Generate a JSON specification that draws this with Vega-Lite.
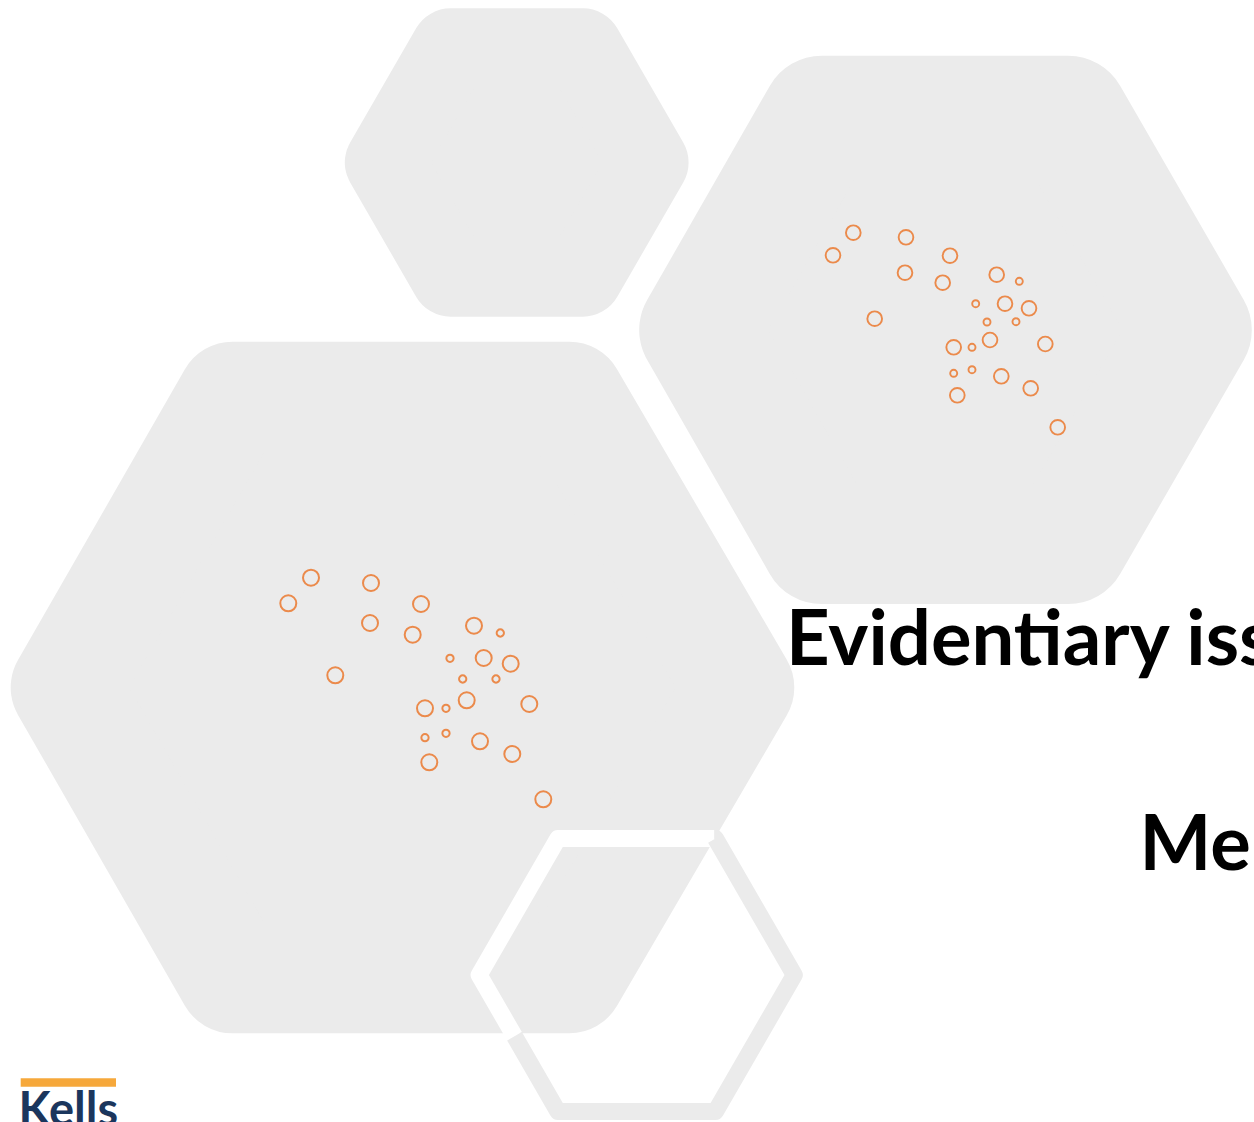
{
  "$schema": "https://vega.github.io/schema/vega-lite/v6.json",
  "width": 1254,
  "height": 1122,
  "padding": 0,
  "autosize": {"type": "none"},
  "background": "white",
  "config": {"view": {"stroke": null}},
  "datasets": {
    "hexes": [
      {"shape": "top", "i": 0, "x": 384.8, "y": 162.5},
      {"shape": "top", "i": 1, "x": 450.75, "y": 48.3},
      {"shape": "top", "i": 2, "x": 582.65, "y": 48.3},
      {"shape": "top", "i": 3, "x": 648.6, "y": 162.5},
      {"shape": "top", "i": 4, "x": 582.65, "y": 276.7},
      {"shape": "top", "i": 5, "x": 450.75, "y": 276.7},
      {"shape": "top", "i": 6, "x": 384.8, "y": 162.5},
      {"shape": "right", "i": 0, "x": 699.2, "y": 329.9},
      {"shape": "right", "i": 1, "x": 821.85, "y": 115.7},
      {"shape": "right", "i": 2, "x": 1068.15, "y": 115.7},
      {"shape": "right", "i": 3, "x": 1191.8, "y": 329.9},
      {"shape": "right", "i": 4, "x": 1068.15, "y": 544.1},
      {"shape": "right", "i": 5, "x": 821.85, "y": 544.1},
      {"shape": "right", "i": 6, "x": 699.2, "y": 329.9},
      {"shape": "big", "i": 0, "x": 65.7, "y": 687.5},
      {"shape": "big", "i": 1, "x": 232.6, "y": 396.7},
      {"shape": "big", "i": 2, "x": 569.4, "y": 396.7},
      {"shape": "big", "i": 3, "x": 739.3, "y": 687.5},
      {"shape": "big", "i": 4, "x": 569.4, "y": 978.3},
      {"shape": "big", "i": 5, "x": 232.6, "y": 978.3},
      {"shape": "big", "i": 6, "x": 65.7, "y": 687.5}
    ],
    "ring": [
      {"part": "inside", "i": 0, "x": 514.5, "y": 1036.3},
      {"part": "inside", "i": 1, "x": 479.1, "y": 975},
      {"part": "inside", "i": 2, "x": 557.9, "y": 838.5},
      {"part": "inside", "i": 3, "x": 714.4, "y": 838.5},
      {"part": "outside", "i": 0, "x": 714.4, "y": 838.5},
      {"part": "outside", "i": 1, "x": 715.5, "y": 838.5},
      {"part": "outside", "i": 2, "x": 794.3, "y": 975},
      {"part": "outside", "i": 3, "x": 715.5, "y": 1111.5},
      {"part": "outside", "i": 4, "x": 557.9, "y": 1111.5},
      {"part": "outside", "i": 5, "x": 514.5, "y": 1036.3}
    ],
    "dots": [
      {"set": "L", "x": 311, "y": 577.7, "kind": "big"},
      {"set": "L", "x": 288.3, "y": 603.3, "kind": "big"},
      {"set": "L", "x": 371, "y": 583, "kind": "big"},
      {"set": "L", "x": 370, "y": 623, "kind": "big"},
      {"set": "L", "x": 421, "y": 604, "kind": "big"},
      {"set": "L", "x": 412.7, "y": 634.7, "kind": "big"},
      {"set": "L", "x": 335.3, "y": 675.3, "kind": "big"},
      {"set": "L", "x": 474, "y": 625.7, "kind": "big"},
      {"set": "L", "x": 500.3, "y": 633, "kind": "small"},
      {"set": "L", "x": 450, "y": 658.3, "kind": "small"},
      {"set": "L", "x": 483.7, "y": 658, "kind": "big"},
      {"set": "L", "x": 510.7, "y": 663.7, "kind": "big"},
      {"set": "L", "x": 462.7, "y": 679, "kind": "small"},
      {"set": "L", "x": 496, "y": 679, "kind": "small"},
      {"set": "L", "x": 466.7, "y": 700.3, "kind": "big"},
      {"set": "L", "x": 529.3, "y": 704, "kind": "big"},
      {"set": "L", "x": 425, "y": 708.3, "kind": "big"},
      {"set": "L", "x": 446, "y": 708.3, "kind": "small"},
      {"set": "L", "x": 425, "y": 737.7, "kind": "small"},
      {"set": "L", "x": 446, "y": 733.3, "kind": "small"},
      {"set": "L", "x": 480, "y": 741.3, "kind": "big"},
      {"set": "L", "x": 512.3, "y": 754, "kind": "big"},
      {"set": "L", "x": 429.3, "y": 762.3, "kind": "big"},
      {"set": "L", "x": 543.3, "y": 799.3, "kind": "big"},
      {"set": "R", "x": 853.3, "y": 232.7, "kind": "big"},
      {"set": "R", "x": 833, "y": 255.3, "kind": "big"},
      {"set": "R", "x": 906, "y": 237.3, "kind": "big"},
      {"set": "R", "x": 905, "y": 272.7, "kind": "big"},
      {"set": "R", "x": 950, "y": 255.7, "kind": "big"},
      {"set": "R", "x": 942.7, "y": 282.7, "kind": "big"},
      {"set": "R", "x": 874.7, "y": 318.7, "kind": "big"},
      {"set": "R", "x": 996.7, "y": 274.7, "kind": "big"},
      {"set": "R", "x": 1019.3, "y": 281.3, "kind": "small"},
      {"set": "R", "x": 975.7, "y": 303.7, "kind": "small"},
      {"set": "R", "x": 1005, "y": 303.7, "kind": "big"},
      {"set": "R", "x": 1029, "y": 308.3, "kind": "big"},
      {"set": "R", "x": 987, "y": 322, "kind": "small"},
      {"set": "R", "x": 1016, "y": 321.7, "kind": "small"},
      {"set": "R", "x": 990, "y": 340, "kind": "big"},
      {"set": "R", "x": 1045.3, "y": 344, "kind": "big"},
      {"set": "R", "x": 953.7, "y": 347.3, "kind": "big"},
      {"set": "R", "x": 972, "y": 347.3, "kind": "small"},
      {"set": "R", "x": 953.7, "y": 373.3, "kind": "small"},
      {"set": "R", "x": 972, "y": 369.7, "kind": "small"},
      {"set": "R", "x": 1001.3, "y": 376.3, "kind": "big"},
      {"set": "R", "x": 1030.7, "y": 388.3, "kind": "big"},
      {"set": "R", "x": 957.3, "y": 395.3, "kind": "big"},
      {"set": "R", "x": 1057.7, "y": 427.3, "kind": "big"}
    ],
    "titles": [
      {"label": "Evidentiary iss", "x": 786, "y": 665},
      {"label": "Me", "x": 1139.5, "y": 870}
    ],
    "logoBar": [
      {"x": 20.7, "x2": 116, "y": 1078.3, "y2": 1086.7}
    ],
    "logoText": [
      {"label": "Kells", "x": 18.5, "y": 1126}
    ]
  },
  "encoding": {
    "x": {"field": "x", "type": "quantitative", "axis": null, "scale": {"domain": [0, 1254], "nice": false, "zero": false}},
    "y": {"field": "y", "type": "quantitative", "axis": null, "scale": {"domain": [0, 1122], "reverse": true, "nice": false, "zero": false}}
  },
  "layer": [
    {
      "data": {"name": "hexes"},
      "transform": [{"filter": "datum.shape === 'top'"}],
      "mark": {"type": "line", "fill": "#ebebeb", "stroke": "#ebebeb", "strokeWidth": 80, "strokeJoin": "round", "strokeCap": "round"},
      "encoding": {"order": {"field": "i", "type": "quantitative"}}
    },
    {
      "data": {"name": "hexes"},
      "transform": [{"filter": "datum.shape === 'right'"}],
      "mark": {"type": "line", "fill": "#ebebeb", "stroke": "#ebebeb", "strokeWidth": 120, "strokeJoin": "round", "strokeCap": "round"},
      "encoding": {"order": {"field": "i", "type": "quantitative"}}
    },
    {
      "data": {"name": "hexes"},
      "transform": [{"filter": "datum.shape === 'big'"}],
      "mark": {"type": "line", "fill": "#ebebeb", "stroke": "#ebebeb", "strokeWidth": 110, "strokeJoin": "round", "strokeCap": "round"},
      "encoding": {"order": {"field": "i", "type": "quantitative"}}
    },
    {
      "data": {"name": "ring"},
      "transform": [{"filter": "datum.part === 'inside'"}],
      "mark": {"type": "line", "stroke": "#ffffff", "strokeWidth": 17, "strokeJoin": "round", "strokeCap": "butt"},
      "encoding": {"order": {"field": "i", "type": "quantitative"}}
    },
    {
      "data": {"name": "ring"},
      "transform": [{"filter": "datum.part === 'outside'"}],
      "mark": {"type": "line", "stroke": "#ebebeb", "strokeWidth": 17, "strokeJoin": "round", "strokeCap": "butt"},
      "encoding": {"order": {"field": "i", "type": "quantitative"}}
    },
    {
      "data": {"name": "dots"},
      "transform": [{"filter": "datum.set === 'L'"}],
      "mark": {"type": "point", "shape": "circle", "filled": false, "stroke": "#eb8a4b", "strokeWidth": 2, "opacity": 1},
      "encoding": {
        "size": {"condition": {"test": "datum.kind === 'big'", "value": 256}, "value": 53}
      }
    },
    {
      "data": {"name": "dots"},
      "transform": [{"filter": "datum.set === 'R'"}],
      "mark": {"type": "point", "shape": "circle", "filled": false, "stroke": "#eb8a4b", "strokeWidth": 1.9, "opacity": 1},
      "encoding": {
        "size": {"condition": {"test": "datum.kind === 'big'", "value": 216}, "value": 49}
      }
    },
    {
      "data": {"name": "titles"},
      "mark": {"type": "text", "font": "Lato", "fontWeight": "bold", "fontSize": 76, "align": "left", "baseline": "alphabetic", "color": "#000000"},
      "encoding": {"text": {"field": "label", "type": "nominal"}}
    },
    {
      "data": {"name": "logoBar"},
      "mark": {"type": "rect", "color": "#f6a83b"},
      "encoding": {
        "x2": {"field": "x2"},
        "y2": {"field": "y2"}
      }
    },
    {
      "data": {"name": "logoText"},
      "mark": {"type": "text", "font": "Lato", "fontWeight": "bold", "fontSize": 47, "align": "left", "baseline": "alphabetic", "color": "#1b365d"},
      "encoding": {"text": {"field": "label", "type": "nominal"}}
    }
  ]
}
